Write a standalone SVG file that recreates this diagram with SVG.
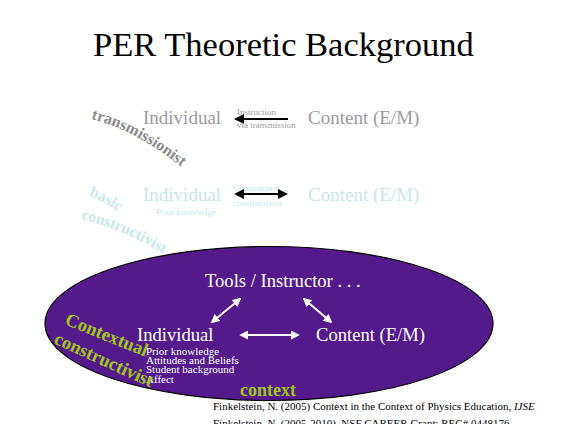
<svg xmlns="http://www.w3.org/2000/svg" width="563" height="424" viewBox="0 0 563 424">
  <style>
    text { font-family: "Liberation Serif", "Times New Roman", serif; }
    .title { font-size: 34.5px; fill: #000; }
    .row1 { font-size: 19px; fill: #9a9a9a; }
    .row2 { font-size: 19px; fill: #c6e7eb; }
    .tiny1 { font-size: 9px; fill: #9a9a9a; }
    .tiny2 { font-size: 9px; fill: #c6e7eb; }
    .node { font-size: 18.6px; fill: #fff; }
    .list { font-size: 11px; fill: #fff; }
    .tag { font-weight: bold; }
    .ref { font-size: 11px; fill: #000; }
    .blk { stroke: #000; stroke-width: 2; fill: none; }
    .wht { stroke: #fff; stroke-width: 2; fill: none; }
  </style>
  <defs>
    <marker id="hb" viewBox="0 0 10 10" refX="8" refY="5" markerWidth="5" markerHeight="5" orient="auto-start-reverse">
      <path d="M0,0 L10,5 L0,10 Z" fill="#000"/>
    </marker>
    <marker id="hw" viewBox="0 0 10 10" refX="8" refY="5" markerWidth="4.5" markerHeight="4.5" orient="auto-start-reverse">
      <path d="M0,0 L10,5 L0,10 Z" fill="#fff"/>
    </marker>
    <path id="p-trans" d="M91,119 Q138,130 190,174"/>
    <path id="p-basic" d="M89,196 Q106,202 124,216"/>
    <path id="p-bcons" d="M81,219 Q125,229 170,258"/>
  </defs>

  <rect width="563" height="424" fill="#fff"/>

  <text class="title" x="93" y="56">PER Theoretic Background</text>

  <!-- transmissionist view -->
  <g id="transmission">
    <text class="row1" x="143" y="124">Individual</text>
    <text class="row1" x="308" y="124">Content (E/M)</text>
    <text class="tiny1" x="237" y="115">Instruction</text>
    <text class="tiny1" x="237" y="128">via transmission</text>
    <text class="tag" font-size="16" fill="#8a8a8a"><textPath href="#p-trans">transmissionist</textPath></text>
  </g>

  <!-- basic constructivist view -->
  <g id="constructivist">
    <text class="row2" x="143" y="201">Individual</text>
    <text class="row2" x="308" y="201">Content (E/M)</text>
    <text class="tiny2" x="156" y="215">Prior knowledge</text>
    <text class="tiny2" x="233" y="191">Construction</text>
    <text class="tiny2" x="233" y="206">constructivist</text>
    <text class="tag" font-size="15.5" fill="#c6e7eb"><textPath href="#p-basic">basic</textPath></text>
    <text class="tag" font-size="15.5" fill="#c6e7eb"><textPath href="#p-bcons">constructivist</textPath></text>
  </g>

  <!-- contextual constructivist view -->
  <g id="context">
    <ellipse cx="269" cy="323.5" rx="224" ry="77" fill="#541a8c" stroke="#000" stroke-width="1.2"/>
    <text class="node" x="205" y="287">Tools / Instructor . . .</text>
    <text class="node" x="137" y="341">Individual</text>
    <text class="node" x="316" y="341">Content (E/M)</text>
    <text class="list" x="146" y="355" font-size="9.4">Prior knowledge</text>
    <text class="list" x="146" y="364">Attitudes and Beliefs</text>
    <text class="list" x="146" y="373">Student background</text>
    <text class="list" x="146" y="383">Affect</text>
    <text class="tag" font-size="18.5" fill="#a2c81a" transform="translate(64,324) rotate(22)">Contextual</text>
    <text class="tag" font-size="18.5" fill="#a2c81a" transform="translate(53,343) rotate(24.5)">constructivist</text>
    <text class="tag" font-size="18" fill="#a2c81a" x="240" y="396">context</text>
  </g>

  <g id="connectors">
    <line class="blk" x1="288" y1="119" x2="236" y2="119" marker-end="url(#hb)"/>
    <line class="blk" x1="236" y1="194" x2="286" y2="194" marker-start="url(#hb)" marker-end="url(#hb)"/>
    <line class="wht" x1="241" y1="335" x2="298" y2="335" marker-start="url(#hw)" marker-end="url(#hw)"/>
    <line class="wht" x1="212" y1="322" x2="240" y2="299" marker-start="url(#hw)" marker-end="url(#hw)"/>
    <line class="wht" x1="304" y1="299" x2="331" y2="322" marker-start="url(#hw)" marker-end="url(#hw)"/>
  </g>

  <g id="refs">
    <text class="ref" x="213" y="410">Finkelstein, N. (2005) Context in the Context of Physics Education, <tspan font-style="italic">IJSE</tspan></text>
    <text class="ref" x="213" y="427">Finkelstein, N. (2005-2010), NSF CAREER Grant; REC# 0448176</text>
  </g>
</svg>
